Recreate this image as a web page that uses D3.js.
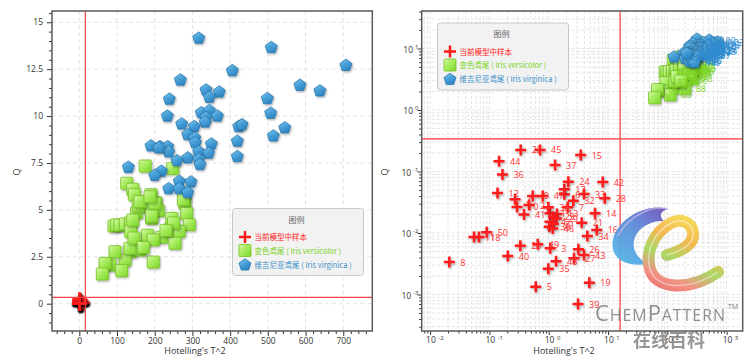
<!DOCTYPE html>
<html>
<head>
<meta charset="utf-8">
<script src="https://cdnjs.cloudflare.com/ajax/libs/d3/7.8.5/d3.min.js"></script>
<style>
body { margin: 0; background: #fff; }
text { font-family: "Open Sans", "DejaVu Sans", sans-serif; }
.cjk { font-family: "Noto Sans CJK SC", "Open Sans", sans-serif; }
</style>
</head>
<body>
<div id="chart"></div>
<script>
// Iris versicolor (training samples 51-100)
var versT2 = [174.6, 247.6, 125.7, 141.6, 146, 190, 203, 187.5, 209.5, 192, 152, 156.5, 280, 277.6, 284.7, 245, 291.7, 92, 99, 108,
    122, 136, 136.3, 180.3, 218.5, 240.5, 265, 253.8, 196, 149.5, 134.4, 121.2, 94.7, 81.4, 112.4, 68.2, 61, 196, 161, 134,
    141.6, 161, 200.7, 187.5, 192, 276, 250, 145, 230, 170];
var versQ = [7.34, 7.2, 6.42, 6.1, 5.81, 5.81, 5.38, 5.14, 4.96, 4.55, 4.85, 5.22, 5.35, 5.88, 4.82, 4.55, 4.21, 4.14, 4.2, 4.19,
    4.25, 4.32, 3.84, 3.65, 3.54, 3.97, 3.86, 3.22, 3.4, 3.04, 2.77, 2.33, 2.77, 2.06, 1.76, 2.15, 1.58, 2.22, 2.86, 2.95,
    4.46, 5.44, 5.35, 5.7, 4.67, 5.55, 4.3, 3.5, 3.9, 3.0];

// Iris virginica (training samples 101-150)
var virgT2 = [316.6, 509, 707, 405.7, 268, 585, 638, 336, 371, 345, 238.7, 498.6, 323.6, 345, 507.5, 233.4, 336, 366, 334, 271.5,
    305, 422.7, 431.5, 544.7, 287.5, 306, 307.6, 514.5, 419, 350, 190, 214, 234.4, 237, 316.6, 343, 419, 287.5, 316.6, 259,
    320, 130, 217.5, 200, 265, 296, 237, 265, 287.5, 211];
var virgQ = [14.15, 13.65, 12.7, 12.42, 11.92, 11.64, 11.34, 11.39, 11.28, 11.0, 10.9, 10.93, 10.18, 10.29, 10.15, 10.0, 9.93, 10.0, 9.68, 9.58,
    9.44, 9.44, 9.54, 9.37, 9.01, 8.83, 8.58, 8.94, 8.66, 8.51, 8.41, 8.37, 8.37, 8.09, 8.1, 8.02, 7.84, 7.77, 7.7, 7.62,
    7.41, 7.27, 7.06, 6.84, 6.52, 6.49, 6.13, 6.13, 5.92, 8.3];

// samples of the current model (labelled 1-50)
var testT2 = [1.05, 0.27, 1.06, 1.05, 0.604, 1.83, 2.09, 0.0211, 0.537, 0.292,
    0.055, 0.137, 1.38, 6.04, 3.46, 6.45, 1.83, 0.0668, 4.84, 0.332,
    3.6, 0.465, 1.2, 2.14, 0.337, 3.16, 2.67, 8.8, 1.36, 1.02,
    1.2, 2.6, 3.94, 4.48, 0.985, 0.166, 1.28, 0.985, 3.12, 0.204,
    0.383, 8.14, 3.94, 0.145, 0.713, 1.17, 0.792, 1.33, 0.653, 0.09];
var testQ = [0.0209, 0.0353, 0.00564, 0.0153, 0.00134, 0.0426, 0.0262, 0.00337, 0.04, 0.0265,
    0.0086, 0.0447, 0.0204, 0.0209, 0.1855, 0.0112, 0.0514, 0.0086, 0.00156, 0.00621,
    0.0147, 0.0285, 0.0184, 0.0683, 0.224, 0.00543, 0.00388, 0.0367, 0.0173, 0.0127,
    0.014, 0.0335, 0.0431, 0.00894, 0.00263, 0.0894, 0.1276, 0.0262, 0.000701, 0.00423,
    0.0201, 0.0675, 0.00439, 0.1465, 0.224, 0.0119, 0.04, 0.00347, 0.00655, 0.0103];

// control limits
var t2Limit = 16;
var qLimit = 0.34;

// tick labels for the linear panel
var xTicksLin = [0, 100, 200, 300, 400, 500, 600, 700];
var yTicksLin = [0, 2.5, 5, 7.5, 10, 12.5, 15];

var legendTitle = "图例";
var legendNames = ["当前模型中样本", "变色鸢尾 ( Iris versicolor )", "维吉尼亚鸢尾 ( Iris virginica )"];

// build point lists
var vers = versT2.map((t, i) => ({t2: t, q: versQ[i], label: String(51 + i)}));
var virg = virgT2.map((t, i) => ({t2: t, q: virgQ[i], label: String(101 + i)}));
var test = testT2.map((t, i) => ({t2: t, q: testQ[i], label: String(i + 1)}));

var colRed = "#ff1a1a", colGreen = "#7bd321", colBlue = "#3a8fca";

var svg = d3.select("#chart").append("svg")
    .attr("width", 753)
    .attr("height", 362);

var defs = svg.append("defs");

// soft shadow under markers
var shadow = defs.append("filter").attr("id", "shadow")
    .attr("x", "-50%").attr("y", "-50%").attr("width", "200%").attr("height", "200%");
shadow.append("feDropShadow")
    .attr("dx", 1).attr("dy", 1.2).attr("stdDeviation", 0.8)
    .attr("flood-color", "#000").attr("flood-opacity", 0.35);

function addGrad(id, stops, x1, y1, x2, y2, user) {
    var g = defs.append("linearGradient").attr("id", id)
        .attr("x1", x1).attr("y1", y1).attr("x2", x2).attr("y2", y2);
    if (user) g.attr("gradientUnits", "userSpaceOnUse");
    stops.forEach(s => g.append("stop").attr("offset", s[0]).attr("stop-color", s[1]));
}
addGrad("gGreen", [[0, "#d8f8b0"], [0.45, "#a6ec5c"], [1, "#7ed62c"]], 0, 0, 1, 1);
addGrad("gBlue", [[0, "#86c8ee"], [0.5, "#4aa2da"], [1, "#2f86c2"]], 0, 0, 0.6, 1);
addGrad("gLogoC", [[0, "#6f4db8"], [0.45, "#5a86d6"], [1, "#4fb4e8"]], 666, 208, 620, 262, true);
addGrad("gLogoE", [[0, "#f6d84c"], [0.3, "#f3b445"], [0.55, "#a5d65a"], [0.8, "#f08a7a"], [1, "#ef6868"]], 690, 218, 660, 292, true);

function pentagon(r) {
    var p = [];
    for (var k = 0; k < 5; k++) {
        var a = (-90 + 72 * k) * Math.PI / 180;
        p.push([(r * Math.cos(a)).toFixed(2), (r * Math.sin(a)).toFixed(2)]);
    }
    return "M" + p.join("L") + "Z";
}

// draw markers into a group
function drawSquares(g, data, x, y) {
    g.selectAll(".sq").data(data).enter().append("rect")
        .attr("x", d => x(d.t2) - 6)
        .attr("y", d => y(d.q) - 6)
        .attr("width", 12).attr("height", 12).attr("rx", 1)
        .attr("fill", "url(#gGreen)")
        .attr("stroke", "#74c11f").attr("stroke-width", 0.8)
        .attr("filter", "url(#shadow)");
}
function drawPentagons(g, data, x, y) {
    g.selectAll(".pt").data(data).enter().append("path")
        .attr("d", pentagon(6.3))
        .attr("transform", d => `translate(${x(d.t2)},${y(d.q)})`)
        .attr("fill", "url(#gBlue)")
        .attr("stroke", "#2a78b0").attr("stroke-width", 0.8)
        .attr("filter", "url(#shadow)");
}
function drawCrosses(g, data, x, y, h) {
    g.selectAll(".cr").data(data).enter().append("path")
        .attr("d", `M${-h},0H${h}M0,${-h}V${h}`)
        .attr("transform", d => `translate(${x(d.t2)},${y(d.q)})`)
        .attr("stroke", colRed).attr("stroke-width", 2.5)
        .attr("fill", "none")
        .attr("filter", "url(#shadow)");
}
function drawLabels(g, data, x, y, color) {
    g.selectAll(".lb").data(data).enter().append("text")
        .attr("x", d => x(d.t2) + 11)
        .attr("y", d => y(d.q) + 3.5)
        .attr("font-size", "9px")
        .attr("fill", color)
        .text(d => d.label);
}

function drawLegend(g, x0, y0) {
    g.append("rect")
        .attr("x", x0).attr("y", y0).attr("width", 131).attr("height", 67).attr("rx", 3)
        .attr("fill", "#f2f2f2").attr("stroke", "#c8c8c8");
    g.append("text").attr("class", "cjk")
        .attr("x", x0 + 64).attr("y", y0 + 14)
        .attr("text-anchor", "middle").attr("font-size", "8px").attr("fill", "#666")
        .text(legendTitle);
    var rows = [y0 + 28.5, y0 + 42, y0 + 56];
    var cols = [colRed, colGreen, colBlue];
    var ix = x0 + 12.5;
    g.append("path").attr("d", `M${ix - 6},${rows[0]}H${ix + 6}M${ix},${rows[0] - 6}V${rows[0] + 6}`)
        .attr("stroke", colRed).attr("stroke-width", 2.5);
    g.append("rect").attr("x", ix - 6).attr("y", rows[1] - 6).attr("width", 12).attr("height", 12).attr("rx", 1)
        .attr("fill", "url(#gGreen)").attr("stroke", "#74c11f").attr("stroke-width", 0.8);
    g.append("path").attr("d", pentagon(6.3)).attr("transform", `translate(${ix},${rows[2] + 0.5})`)
        .attr("fill", "url(#gBlue)").attr("stroke", "#2a78b0").attr("stroke-width", 0.8);
    legendNames.forEach(function(n, i) {
        g.append("text").attr("class", "cjk")
            .attr("x", x0 + 22).attr("y", rows[i] + 3)
            .attr("font-size", "7.5px").attr("fill", cols[i])
            .text(n);
    });
}

// ---------------- left panel: linear ----------------
var L = {x0: 52, x1: 372.3, y0: 11, y1: 331};
var xL = d3.scaleLinear().domain([-72.4, 777]).range([L.x0, L.x1]);
var yL = d3.scaleLinear().domain([-1.455, 15.6]).range([L.y1, L.y0]);

defs.append("clipPath").attr("id", "clipL").append("rect")
    .attr("x", L.x0).attr("y", L.y0).attr("width", L.x1 - L.x0).attr("height", L.y1 - L.y0);

var left = svg.append("g");
var gridL = left.append("g").attr("stroke", "#e3e3e3").attr("stroke-dasharray", "4,3");
gridL.selectAll(".gx").data(xTicksLin).enter().append("line")
    .attr("x1", d => xL(d)).attr("x2", d => xL(d)).attr("y1", L.y0).attr("y2", L.y1);
gridL.selectAll(".gy").data(yTicksLin).enter().append("line")
    .attr("y1", d => yL(d)).attr("y2", d => yL(d)).attr("x1", L.x0).attr("x2", L.x1);

var plotL = left.append("g").attr("clip-path", "url(#clipL)");
drawSquares(plotL.append("g"), vers, xL, yL);
drawPentagons(plotL.append("g"), virg, xL, yL);
drawCrosses(plotL.append("g"), test, xL, yL, 7);
plotL.append("line").attr("x1", xL(t2Limit)).attr("x2", xL(t2Limit)).attr("y1", L.y0).attr("y2", L.y1)
    .attr("stroke", "#ff4040").attr("stroke-width", 1.2);
plotL.append("line").attr("y1", yL(qLimit)).attr("y2", yL(qLimit)).attr("x1", L.x0).attr("x2", L.x1)
    .attr("stroke", "#ff4040").attr("stroke-width", 1.2);

drawLegend(left.append("g"), 232.5, 208.5);

// axes
left.append("g").attr("transform", `translate(0,${L.y1})`)
    .call(d3.axisBottom(xL).tickValues(xTicksLin).tickSize(5).tickPadding(2));
left.append("g").attr("transform", `translate(0,${L.y1})`)
    .call(d3.axisBottom(xL).tickValues(d3.range(-60, 777, 20).filter(v => v % 100 != 0)).tickSize(3).tickFormat(""));
left.append("g").attr("transform", `translate(${L.x0},0)`)
    .call(d3.axisLeft(yL).tickValues(yTicksLin).tickSize(5).tickPadding(4).tickFormat(d => String(d)));
left.append("g").attr("transform", `translate(${L.x0},0)`)
    .call(d3.axisLeft(yL).tickValues(d3.range(-1, 15.6, 0.5).filter(v => v % 2.5 != 0)).tickSize(3).tickFormat(""));

left.append("rect").attr("x", L.x0).attr("y", L.y0).attr("width", L.x1 - L.x0).attr("height", L.y1 - L.y0)
    .attr("fill", "none").attr("stroke", "#5a5a5a").attr("stroke-width", 1.5);

left.append("text").attr("x", 195).attr("y", 354)
    .attr("text-anchor", "middle").attr("font-size", "9px").attr("fill", "#333")
    .text("Hotelling's T^2");
left.append("text").attr("transform", "translate(20,172) rotate(-90)")
    .attr("text-anchor", "middle").attr("font-size", "9px").attr("fill", "#333")
    .text("Q");

// ---------------- right panel: log ----------------
var R = {x0: 421.7, x1: 742.7, y0: 11, y1: 331};
var xR = d3.scaleLog().domain([Math.pow(10, -2.142), Math.pow(10, 3.271)]).range([R.x0, R.x1]);
var yR = d3.scaleLog().domain([Math.pow(10, -3.593), Math.pow(10, 1.61)]).range([R.y1, R.y0]);

defs.append("clipPath").attr("id", "clipR").append("rect")
    .attr("x", R.x0).attr("y", R.y0).attr("width", R.x1 - R.x0).attr("height", R.y1 - R.y0);

var xDecades = [-2, -1, 0, 1, 2, 3];
var yDecades = [-3, -2, -1, 0, 1];
function logMinors(scale) {
    var dom = scale.domain(), out = [];
    for (var e = -5; e <= 4; e++) {
        for (var m = 2; m <= 9; m++) {
            var v = m * Math.pow(10, e);
            if (v >= dom[0] && v <= dom[1]) out.push(v);
        }
    }
    return out;
}
var xMinR = logMinors(xR), yMinR = logMinors(yR);

var right = svg.append("g");
var gridR = right.append("g").attr("stroke", "#e4e4e4").attr("stroke-dasharray", "3,2");
gridR.selectAll(".gx").data(xMinR.concat(xDecades.map(e => Math.pow(10, e)))).enter().append("line")
    .attr("x1", d => xR(d)).attr("x2", d => xR(d)).attr("y1", R.y0).attr("y2", R.y1);
gridR.selectAll(".gy").data(yMinR.concat(yDecades.map(e => Math.pow(10, e)))).enter().append("line")
    .attr("y1", d => yR(d)).attr("y2", d => yR(d)).attr("x1", R.x0).attr("x2", R.x1);

var plotR = right.append("g").attr("clip-path", "url(#clipR)");
plotR.append("line").attr("x1", xR(t2Limit)).attr("x2", xR(t2Limit)).attr("y1", R.y0).attr("y2", R.y1)
    .attr("stroke", "#ff5050").attr("stroke-width", 1.6).attr("opacity", 0.85);
plotR.append("line").attr("y1", yR(qLimit)).attr("y2", yR(qLimit)).attr("x1", R.x0).attr("x2", R.x1)
    .attr("stroke", "#ff5050").attr("stroke-width", 1.6).attr("opacity", 0.85);
drawSquares(plotR.append("g"), vers, xR, yR);
drawLabels(plotR.append("g"), vers, xR, yR, colGreen);
drawPentagons(plotR.append("g"), virg, xR, yR);
drawLabels(plotR.append("g"), virg, xR, yR, "#2f8cd0");
drawCrosses(plotR.append("g"), test, xR, yR, 5.5);
drawLabels(plotR.append("g"), test, xR, yR, "#ff3030");

drawLegend(right.append("g"), 437.5, 23);

// log axes ticks
right.append("g").attr("transform", `translate(0,${R.y1})`)
    .call(d3.axisBottom(xR).tickValues(xDecades.map(e => Math.pow(10, e))).tickSize(4).tickFormat(""));
right.append("g").attr("transform", `translate(0,${R.y1})`)
    .call(d3.axisBottom(xR).tickValues(xMinR).tickSize(2.5).tickFormat(""));
right.append("g").attr("transform", `translate(${R.x0},0)`)
    .call(d3.axisLeft(yR).tickValues(yDecades.map(e => Math.pow(10, e))).tickSize(4).tickFormat(""));
right.append("g").attr("transform", `translate(${R.x0},0)`)
    .call(d3.axisLeft(yR).tickValues(yMinR).tickSize(2.5).tickFormat(""));

// "10 ^ n" labels
function expText(d) { return d < 0 ? "-" + (-d) : String(d); }
var xLab = right.selectAll(".xlab").data(xDecades).enter().append("text")
    .attr("x", d => xR(Math.pow(10, d)) - 4).attr("y", 343)
    .attr("font-size", "8.5px").attr("fill", "#333");
xLab.append("tspan").text("10");
xLab.append("tspan").attr("dx", 2.5).attr("dy", -3).attr("font-size", "6px").text(expText);
var yLab = right.selectAll(".ylab").data(yDecades).enter().append("text")
    .attr("x", 418.5).attr("y", d => yR(Math.pow(10, d)) + 4)
    .attr("text-anchor", "end")
    .attr("font-size", "8.5px").attr("fill", "#333");
yLab.append("tspan").text("10");
yLab.append("tspan").attr("dx", 2).attr("dy", -4).attr("font-size", "6px").text(expText);

right.append("rect").attr("x", R.x0).attr("y", R.y0).attr("width", R.x1 - R.x0).attr("height", R.y1 - R.y0)
    .attr("fill", "none").attr("stroke", "#5a5a5a").attr("stroke-width", 1.5);

right.append("text").attr("x", 564).attr("y", 354)
    .attr("text-anchor", "middle").attr("font-size", "9px").attr("fill", "#333")
    .text("Hotelling's T^2");
right.append("text").attr("transform", "translate(388,172) rotate(-90)")
    .attr("text-anchor", "middle").attr("font-size", "9px").attr("fill", "#333")
    .text("Q");

svg.selectAll(".domain").remove();
svg.selectAll(".tick line").attr("stroke", "#333");
svg.selectAll(".tick text").attr("font-size", "8.5px").attr("fill", "#333");

// ---------------- watermark logo ----------------
var logo = svg.append("g").attr("opacity", 0.92);
logo.append("path")
    .attr("d", "M668,209 C652,203 622,214 614,236 C608,254 620,268 648,264 C636,258 631,248 635,237 C640,226 653,220 664,221 C658,216 661,211 668,209 Z")
    .attr("fill", "url(#gLogoC)");
logo.append("path")
    .attr("d", "M668,209 C652,205 628,216 618,236")
    .attr("fill", "none").attr("stroke", "#c9b8ec").attr("stroke-width", 1.5).attr("opacity", 0.7);
var ePath = "M667,255 C682,251 694,244 693,233 C692,222 681,218 671,223 C654,232 645,252 650,269 C656,290 690,291 718,272";
logo.append("path")
    .attr("d", ePath)
    .attr("fill", "none").attr("stroke", "url(#gLogoE)").attr("stroke-width", 12).attr("stroke-linecap", "round");
logo.append("path")
    .attr("d", ePath)
    .attr("fill", "none").attr("stroke", "#fff").attr("stroke-width", 1.5).attr("opacity", 0.45);

var brand = svg.append("text")
    .attr("x", 595).attr("y", 321)
    .attr("font-family", "'Liberation Serif', 'DejaVu Serif', serif")
    .attr("fill", "#7d7d7d").attr("opacity", 0.85)
    .attr("textLength", 130).attr("lengthAdjust", "spacing");
brand.append("tspan").attr("font-size", "22px").text("C");
brand.append("tspan").attr("font-size", "16px").text("HEM");
brand.append("tspan").attr("font-size", "22px").text("P");
brand.append("tspan").attr("font-size", "16px").text("ATTERN");
svg.append("text").attr("x", 728).attr("y", 309)
    .attr("font-family", "'Liberation Serif', serif").attr("font-size", "7px").attr("fill", "#7d7d7d")
    .text("TM");
svg.append("text").attr("class", "cjk")
    .attr("x", 633).attr("y", 347)
    .attr("font-size", "18px").attr("font-weight", "bold")
    .attr("fill", "#7d7d7d").attr("opacity", 0.8)
    .text("在线百科");
</script>
</body>
</html>
